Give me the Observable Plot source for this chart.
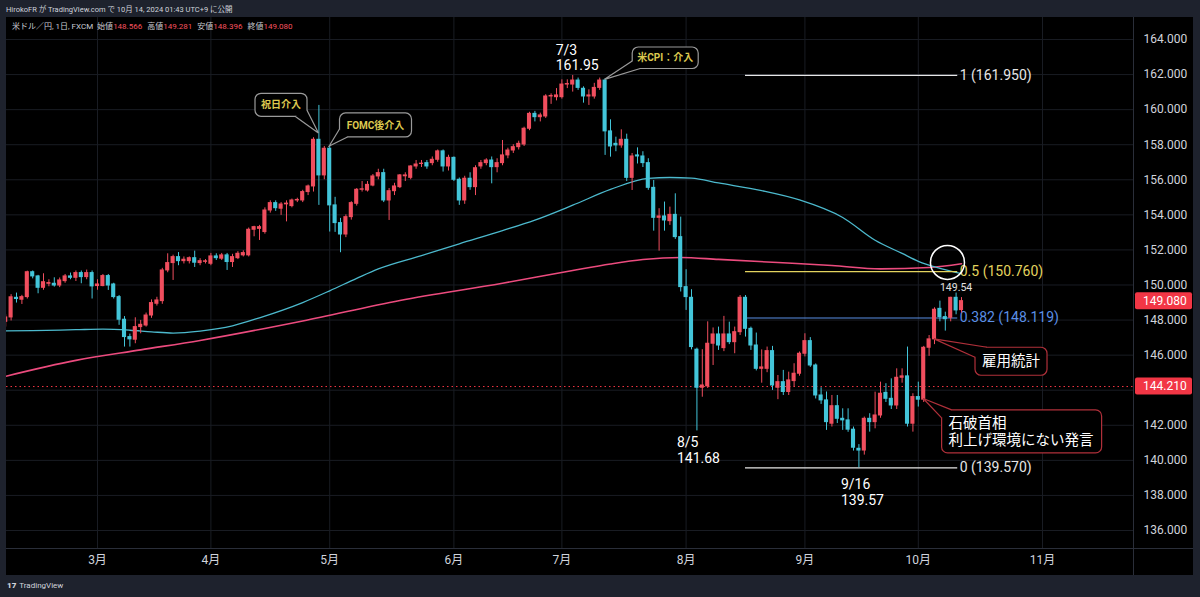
<!DOCTYPE html>
<html><head><meta charset="utf-8">
<script src="https://cdn.jsdelivr.net/npm/d3@7"></script>
<script src="https://cdn.jsdelivr.net/npm/@observablehq/plot@0.6"></script>
<style>
html,body{margin:0;padding:0;background:#1e222d;}
#wrap{position:relative;width:1200px;height:597px;background:#1e222d;overflow:hidden;font-family:Roboto,"Noto Sans CJK JP",sans-serif;}
#panel{position:absolute;left:6px;top:17px;width:1187px;height:558px;background:#000;}
.sepH{position:absolute;left:6px;top:548px;width:1187px;height:1px;background:#2a2e39;}
.sepV{position:absolute;left:1133px;top:17px;width:1px;height:558px;background:#2a2e39;}
#chart{position:absolute;left:0;top:0;}
#hdr{position:absolute;left:6px;top:3px;font-size:7.5px;color:#d1d4dc;white-space:nowrap;}
#legend{position:absolute;left:12px;top:20px;font-size:8px;color:#c9ccd4;white-space:nowrap;}
#legend .v{color:#f7525f;margin-right:5px;}
#foot{position:absolute;left:7px;top:581px;font-size:8px;color:#d1d4dc;white-space:nowrap;}
#foot b{font-weight:900;margin-right:3px;}
</style></head>
<body>
<div id="wrap">
  <div id="panel"></div>
  <div class="sepH"></div>
  <div class="sepV"></div>
  <div id="chart"></div>
  <div id="hdr">HirokoFR が TradingView.com で 10月 14, 2024 01:43 UTC+9 に公開</div>
  <div id="legend">米ドル／円, 1日, FXCM&nbsp; 始値<span class="v">148.566</span>高値<span class="v">149.281</span>安値<span class="v">148.396</span>終値<span class="v">149.080</span></div>
  <div id="foot"><b>17</b>TradingView</div>
</div>
<script>
// ---------------- data ----------------
const dates = [
"2/7","2/8","2/9","2/12","2/13","2/14","2/15","2/16","2/19","2/20","2/21","2/22","2/23","2/26","2/27","2/28","2/29",
"3/1","3/4","3/5","3/6","3/7","3/8","3/11","3/12","3/13","3/14","3/15","3/18","3/19","3/20","3/21","3/22","3/25","3/26","3/27","3/28","3/29",
"4/1","4/2","4/3","4/4","4/5","4/8","4/9","4/10","4/11","4/12","4/15","4/16","4/17","4/18","4/19","4/22","4/23","4/24","4/25","4/26","4/29","4/30",
"5/1","5/2","5/3","5/6","5/7","5/8","5/9","5/10","5/13","5/14","5/15","5/16","5/17","5/20","5/21","5/22","5/23","5/24","5/27","5/28","5/29","5/30","5/31",
"6/3","6/4","6/5","6/6","6/7","6/10","6/11","6/12","6/13","6/14","6/17","6/18","6/19","6/20","6/21","6/24","6/25","6/26","6/27","6/28",
"7/1","7/2","7/3","7/4","7/5","7/8","7/9","7/10","7/11","7/12","7/15","7/16","7/17","7/18","7/19","7/22","7/23","7/24","7/25","7/26","7/29","7/30","7/31",
"8/1","8/2","8/5","8/6","8/7","8/8","8/9","8/12","8/13","8/14","8/15","8/16","8/19","8/20","8/21","8/22","8/23","8/26","8/27","8/28","8/29","8/30",
"9/2","9/3","9/4","9/5","9/6","9/9","9/10","9/11","9/12","9/13","9/16","9/17","9/18","9/19","9/20","9/23","9/24","9/25","9/26","9/27","9/30",
"10/1","10/2","10/3","10/4","10/7","10/8","10/9","10/10","10/11"];
const futureDates = ["10/14","10/15","10/16","10/17","10/18","10/21","10/22","10/23","10/24","10/25","10/28","10/29","10/30","10/31","11/1"];

const open = [
147.90,148.15,149.27,149.16,149.31,150.73,150.49,149.84,150.07,150.07,149.97,150.22,150.49,150.41,150.68,150.45,150.68,
149.94,149.94,150.51,150.03,149.31,148.02,147.03,146.88,147.60,147.69,148.26,148.93,149.08,150.83,151.25,151.59,151.36,151.36,151.53,151.25,151.32,
151.21,151.63,151.50,151.69,151.31,151.53,151.69,151.69,153.15,153.20,153.02,154.25,154.67,154.35,154.60,154.50,154.82,154.82,155.30,155.62,158.28,156.25,
157.77,154.54,153.53,152.88,153.87,154.63,155.43,155.39,155.67,156.19,156.38,154.82,155.35,155.58,156.20,156.11,156.76,156.90,156.95,156.95,157.14,157.62,156.76,
157.25,156.00,154.82,156.06,155.58,156.76,156.95,157.10,156.72,156.95,157.39,157.67,157.86,158.01,158.91,159.76,159.57,159.61,160.75,160.71,
160.71,161.43,161.43,161.66,161.19,160.75,160.75,161.24,161.66,158.76,158.05,157.96,158.28,156.11,157.39,157.33,156.95,155.54,153.83,153.91,153.64,154.00,152.73,
149.88,149.27,146.31,144.14,144.22,146.65,147.18,146.40,147.18,146.74,147.31,149.27,147.50,146.55,145.22,145.22,146.23,144.14,144.46,143.90,144.52,144.94,
146.08,146.80,145.41,143.70,143.42,142.09,143.09,142.37,142.28,141.75,140.66,140.56,142.37,142.18,142.56,143.85,143.51,143.13,144.71,144.79,142.09,
143.61,143.46,146.42,146.90,148.64,148.17,148.13,149.27,148.566];
const high = [
148.30,149.45,149.54,149.41,150.79,150.80,150.55,150.64,150.30,150.41,150.40,150.60,150.68,150.80,150.80,150.85,150.80,
150.30,150.60,150.60,150.10,149.40,148.20,147.20,148.13,147.98,148.40,149.15,149.30,150.95,151.78,151.70,151.85,151.60,151.60,151.93,151.50,151.45,
151.80,151.78,151.80,151.80,151.75,151.90,151.95,153.25,153.35,153.40,154.40,154.80,154.80,154.70,154.80,154.90,154.95,155.40,155.70,158.40,160.24,157.90,
157.90,155.00,153.80,154.00,154.75,155.50,155.90,155.90,156.30,156.60,156.60,155.50,155.80,156.30,156.40,156.80,157.10,157.10,157.10,157.30,157.70,157.70,157.40,
157.30,156.10,156.20,156.40,156.80,157.10,157.20,157.30,157.20,158.24,157.80,158.00,158.20,159.00,159.85,159.90,159.80,160.85,160.90,161.20,
161.70,161.70,161.95,161.80,161.30,161.13,161.50,161.80,161.75,159.42,158.43,158.85,158.60,157.50,157.82,157.60,157.20,155.96,154.35,154.73,154.44,155.20,153.87,
150.87,149.73,146.40,146.31,147.90,147.55,147.60,148.21,147.88,147.60,149.40,149.40,147.60,147.26,146.30,146.46,146.50,144.84,145.13,145.03,145.51,146.18,
147.22,147.00,145.50,144.14,143.90,143.70,143.70,142.94,142.94,141.90,140.90,142.47,142.66,143.89,144.46,144.37,144.65,145.22,145.22,146.46,143.80,
144.46,146.50,147.12,148.70,149.08,148.45,149.30,149.54,149.281];
const low = [
147.60,147.95,148.97,148.89,149.20,150.35,149.50,149.70,149.90,149.88,149.85,150.10,150.30,150.20,150.07,150.30,149.20,
149.70,149.90,149.69,149.20,147.70,146.46,146.46,146.65,147.22,147.60,148.10,148.80,148.90,150.70,150.26,151.10,151.20,151.20,151.00,151.10,151.20,
151.10,151.40,151.40,150.83,151.00,151.45,151.60,151.60,152.75,152.54,152.90,154.10,154.20,153.97,153.60,154.40,154.70,154.70,155.10,155.30,154.54,156.00,
153.02,153.00,151.84,152.70,153.70,154.50,155.30,155.30,155.60,156.00,154.70,153.68,155.10,155.50,155.90,156.00,156.60,156.70,156.60,156.80,157.00,156.44,156.50,
155.90,154.54,154.60,155.40,155.10,156.60,156.80,155.77,156.40,156.80,157.20,157.50,157.70,157.90,158.80,159.30,159.30,159.50,160.30,160.50,
160.60,161.20,161.00,161.10,160.37,160.24,160.60,161.10,157.39,157.29,157.60,157.80,155.90,155.39,156.90,156.70,155.40,153.07,151.93,153.07,153.40,152.60,149.60,
148.55,146.30,141.68,143.60,144.10,145.41,146.27,146.20,146.60,146.08,147.12,147.03,146.27,145.10,144.40,145.00,143.99,143.46,143.70,143.70,144.18,144.80,
145.90,145.30,143.50,143.19,141.71,141.90,142.10,141.71,141.60,140.53,139.57,140.30,141.61,141.80,142.40,143.30,142.90,142.90,144.40,141.90,141.61,
143.04,143.30,145.93,146.60,147.90,147.37,147.90,148.30,148.396];
const close = [
148.15,149.30,149.20,149.31,150.73,150.49,149.84,150.16,150.11,149.97,150.26,150.49,150.41,150.68,150.45,150.68,149.92,
150.03,150.51,149.97,149.31,148.02,147.03,146.90,147.60,147.73,148.26,148.97,149.12,150.83,151.25,151.59,151.36,151.44,151.53,151.27,151.36,151.35,
151.63,151.53,151.69,151.31,151.59,151.78,151.82,153.15,153.30,153.30,154.25,154.67,154.38,154.59,154.64,154.82,154.85,155.30,155.62,158.28,156.25,157.77,
154.54,153.53,152.88,153.87,154.67,155.43,155.46,155.71,156.19,156.38,154.82,155.35,155.62,156.25,156.25,156.76,156.87,156.92,156.76,157.14,157.62,156.76,157.25,
156.00,154.82,156.06,155.58,156.66,156.95,157.10,156.72,156.95,157.39,157.67,157.86,158.05,158.91,159.76,159.57,159.67,160.75,160.78,160.81,
161.43,161.46,161.66,161.24,160.75,160.81,161.24,161.66,158.76,157.90,157.96,158.28,156.11,157.33,157.33,156.95,155.54,153.83,153.91,153.68,154.00,152.73,149.88,
149.31,146.46,144.14,144.27,146.65,147.18,146.55,147.18,146.74,147.31,149.27,147.50,146.55,145.22,145.30,146.23,144.27,144.46,143.90,144.56,144.94,146.08,
146.80,145.41,143.70,143.42,142.18,143.09,142.37,142.28,141.75,140.72,140.56,142.37,142.18,142.56,143.80,143.51,143.13,144.71,144.79,142.09,143.61,
143.46,146.42,146.90,148.59,148.17,148.05,149.27,148.55,149.080];

// moving averages (bar position, value)
const maFastAt  = [-1,5,13,18,23,27,31,36,42,47,55,60,65,69,77,84,92,98,105,112,119,123,127,132,140,147,155,161,166,169,173,177];
const maFastVal = [147.38,147.40,147.45,147.48,147.42,147.33,147.26,147.37,147.67,148.13,149.0,149.67,150.38,150.92,151.68,152.35,153.1,153.7,154.55,155.45,156.08,156.13,156.1,155.82,155.38,154.85,153.85,152.55,151.8,151.35,150.95,150.65];
const maSlowAt  = [-1,13,25,36,55,73,92,105,112,118,125,132,143,153,162,171,177];
const maSlowVal = [144.72,145.70,146.30,146.84,147.95,149.12,150.10,150.83,151.20,151.45,151.57,151.46,151.28,151.11,150.92,151.00,151.21];

const gridTicks  = [136,138,140,142,144,146,148,150,152,154,156,158,160,162,164];
const priceTicks = [136,138,140,142,146,148,150,152,154,156,158,160,162,164]; // 144 is hidden under the 144.210 tag
const monthStarts = ["3/1","4/1","5/1","6/3","7/1","8/1","9/2","10/1","11/1"];
const monthLabels = ["3月","4月","5月","6月","7月","8月","9月","10月","11月"];

const fibRatio = ["1","0.5","0.382","0"];
const fibPrice = [161.950,150.760,148.119,139.570];
const fibFrom = "8/16", fibTo = "10/10";

const hLine = 144.210;
const lastPrice = 149.080;

const extremeDates  = ["7/3","8/5","9/16"];
const extremePrice  = [161.95,141.68,139.57];
const extremeSide   = ["high","low","low"];
const recentHighDate = "10/10", recentHigh = 149.54;

const calloutText  = ["祝日介入","FOMC後介入","米CPI：介入","雇用統計","石破首相\n利上げ環境にない発言"];
const calloutDate  = ["4/29","5/1","7/11","10/4","10/2"];
const calloutPrice = [158.64,157.90,161.70,146.90,143.50];
const circleDate = "10/8", circlePrice = 151.29;

// ---------------- styles / layout ----------------
const UP = "#f04e5e", DN = "#43c5d9";
const fibColor = ["#e6e6e6","#e3d35e","#5b8fe6","#e6e6e6"];
const calloutLayout = [
  {dx:-63.4, dy:-39.7, w:52, h:23, t1:[40,23], t2:[52,17], kind:"gray"},
  {dx:10.3, dy:-33, w:72, h:24, t1:[0,16], t2:[8,24], kind:"gray"},
  {dx:27.6, dy:-32.3, w:66, h:21.5, t1:[0,14], t2:[8,21.5], kind:"gray"},
  {dx:41, dy:8.4, w:72, h:28, t1:[12,0], t2:[0,10], kind:"red"},
  {dx:18.4, dy:11.4, w:160, h:43, t1:[10,0], t2:[0,8], kind:"red"}
];

const idx = new Map([...dates, ...futureDates].map((d, i) => [d, i]));
const candles = dates.map((d, i) => ({i, d, o: open[i], h: high[i], l: low[i], c: close[i]}));
const maFast = maFastAt.map((a, j) => ({a, v: maFastVal[j]}));
const maSlow = maSlowAt.map((a, j) => ({a, v: maSlowVal[j]}));
const monthTicks = monthStarts.map(d => idx.get(d));
const monthLabel = new Map(monthTicks.map((t, j) => [t, monthLabels[j]]));
const fib = fibRatio.map((r, j) => ({r, p: fibPrice[j], col: fibColor[j]}));
const x1Fib = idx.get(fibFrom), x2Fib = idx.get(fibTo) + 0.3;
const extremes = extremeDates.map((d, j) => ({i: idx.get(d), p: extremePrice[j], side: extremeSide[j], t: d + "\n" + extremePrice[j].toFixed(2)}));

function calloutMark(index, scales, values, dims) {
  const g = d3.create("svg:g");
  calloutText.forEach((txt, j) => {
    const L = calloutLayout[j];
    const ax = scales.x(idx.get(calloutDate[j])), ay = scales.y(calloutPrice[j]);
    const bx = ax + L.dx, by = ay + L.dy;
    const stroke = L.kind === "gray" ? "#9a9a9a" : "#b0303a";
    g.append("rect").attr("x", bx).attr("y", by).attr("width", L.w).attr("height", L.h)
      .attr("rx", 6).attr("fill", "#000").attr("stroke", stroke).attr("stroke-width", 1.2);
    const p1 = [bx + L.t1[0], by + L.t1[1]], p2 = [bx + L.t2[0], by + L.t2[1]];
    g.append("path").attr("d", `M${p1}L${ax},${ay}L${p2}Z`).attr("fill", "#000");
    g.append("path").attr("d", `M${p1}L${ax},${ay}L${p2}`).attr("fill", "none").attr("stroke", stroke).attr("stroke-width", 1.2);
    const lines = txt.split("\n");
    if (L.kind === "gray") {
      g.append("text").attr("x", bx + L.w / 2).attr("y", by + L.h / 2).attr("dy", "0.36em")
        .attr("text-anchor", "middle").attr("fill", "#dcc84f").attr("font-size", 10).attr("font-weight", "bold").text(txt);
    } else {
      const lh = 17, top = by + L.h / 2 - (lines.length - 1) * lh / 2;
      lines.forEach((ln, k) => g.append("text").attr("x", bx + 7).attr("y", top + k * lh).attr("dy", "0.36em")
        .attr("text-anchor", "start").attr("fill", "#ffffff").attr("font-size", 14.5).text(ln));
    }
  });
  return g.node();
}

function priceTagMark(index, scales, values, dims) {
  const g = d3.create("svg:g");
  const xr = dims.width - dims.marginRight;
  for (const p of [lastPrice, hLine]) {
    const yy = scales.y(p);
    g.append("rect").attr("x", xr + 2).attr("y", yy - 8.5).attr("width", 57).attr("height", 17).attr("rx", 2).attr("fill", "#f23645");
    g.append("text").attr("x", xr + 10).attr("y", yy).attr("dy", "0.36em").attr("text-anchor", "start")
      .attr("fill", "#fff").attr("font-size", 12).text(p.toFixed(3));
  }
  return g.node();
}

const chart = Plot.plot({
  width: 1200, height: 597,
  marginTop: 17, marginBottom: 49, marginLeft: 6, marginRight: 67,
  style: {background: "transparent", color: "#d1d4dc", fontFamily: "Roboto, 'Noto Sans CJK JP', sans-serif"},
  x: {type: "linear", domain: [0.148, 208.85], axis: null},
  y: {type: "linear", domain: [134.974, 165.254], axis: null},
  marks: [
    Plot.gridY(gridTicks, {stroke: "#191c23", strokeOpacity: 1}),
    Plot.gridX(monthTicks, {stroke: "#191c23", strokeOpacity: 1}),
    Plot.axisY(priceTicks, {anchor: "right", tickSize: 0, tickPadding: 10, tickFormat: d => d.toFixed(3), fontSize: 12, fill: "#d1d4dc", label: null}),
    Plot.axisX(monthTicks, {anchor: "bottom", tickSize: 0, tickPadding: 7, tickFormat: d => monthLabel.get(d), fontSize: 12, fill: "#d1d4dc", label: null}),
    Plot.ruleY([hLine], {stroke: "#f23645", strokeDasharray: "1.5,3", strokeWidth: 1}),
    Plot.line(maSlow, {x: "a", y: "v", stroke: "#ec4b7e", strokeWidth: 1.6, curve: "monotone-x", clip: true}),
    Plot.line(maFast, {x: "a", y: "v", stroke: "#4cb9cd", strokeWidth: 1.3, curve: "monotone-x", clip: true}),
    Plot.ruleY(fib, {y: "p", x1: x1Fib, x2: x2Fib, stroke: "col", strokeWidth: 1.2}),
    Plot.text(fib, {x: x2Fib, y: "p", text: d => `${d.r} (${d.p.toFixed(3)})`, fill: "col", textAnchor: "start", dx: 2, fontSize: 14}),
    Plot.ruleX(candles, {x: "i", y1: "l", y2: "h", stroke: d => d.c >= d.o ? UP : DN, strokeWidth: 1, clip: true}),
    Plot.rect(candles, {x1: d => d.i - 0.38, x2: d => d.i + 0.38, y1: d => Math.min(d.o, d.c), y2: d => Math.max(d.o, d.c),
      fill: d => d.c >= d.o ? UP : DN, insetTop: -0.5, insetBottom: -0.5, clip: true}),
    Plot.text(extremes.filter(d => d.side === "high"), {x: "i", y: "p", text: "t", textAnchor: "start", dx: -17, lineAnchor: "bottom", dy: -5, lineHeight: 1.12, fontSize: 14, fill: "#ffffff"}),
    Plot.text(extremes.filter(d => d.side === "low" && d.i < 150), {x: "i", y: "p", text: "t", textAnchor: "start", dx: -20, lineAnchor: "top", dy: 5, lineHeight: 1.12, fontSize: 14, fill: "#ffffff"}),
    Plot.text(extremes.filter(d => d.side === "low" && d.i >= 150), {x: "i", y: "p", text: "t", textAnchor: "start", dx: -18, lineAnchor: "top", dy: 10, lineHeight: 1.12, fontSize: 14, fill: "#ffffff"}),
    Plot.text([{i: idx.get(recentHighDate), p: recentHigh}], {x: "i", y: "p", text: d => d.p.toFixed(2), textAnchor: "middle", lineAnchor: "middle", dy: -5, fontSize: 10.5, fill: "#e0e0e0"}),
    Plot.dot([{i: idx.get(circleDate) + 0.4, p: circlePrice}], {x: "i", y: "p", r: 17, fill: "none", stroke: "#ffffff", strokeWidth: 1.5}),
    calloutMark,
    priceTagMark
  ]
});
document.getElementById("chart").appendChild(chart);
</script>
</body></html>
